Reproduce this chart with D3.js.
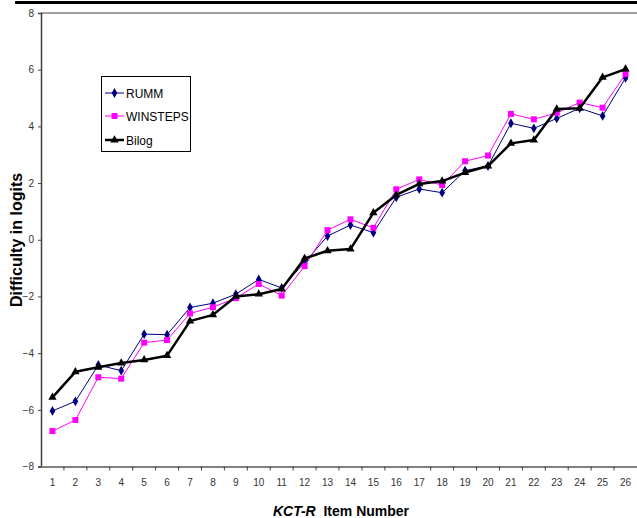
<!DOCTYPE html>
<html>
<head>
<meta charset="utf-8">
<script src="https://cdn.jsdelivr.net/npm/d3@7"></script>
<style>
  body { margin: 0; background: #fff; }
  svg { display: block; font-family: "Liberation Sans", Arial, sans-serif; }
</style>
</head>
<body>
<div id="root"></div>
<script>
// item numbers on the x axis
var items = d3.range(1, 27);
// difficulty estimates
var rumm = [-6.04, -5.70, -4.42, -4.62, -3.33, -3.35, -2.39, -2.24, -1.92, -1.40, -1.70, -0.80, 0.13, 0.52, 0.25, 1.50, 1.79, 1.66, 2.44, 2.60, 4.11, 3.93, 4.28, 4.64, 4.37, 5.71];
var winsteps = [-6.75, -6.36, -4.85, -4.90, -3.63, -3.54, -2.60, -2.38, -2.06, -1.56, -1.97, -0.93, 0.34, 0.72, 0.42, 1.78, 2.13, 1.93, 2.77, 2.97, 4.44, 4.25, 4.48, 4.84, 4.66, 5.85];
var bilog = [-5.56, -4.66, -4.50, -4.35, -4.24, -4.09, -2.87, -2.65, -2.00, -1.92, -1.74, -0.66, -0.39, -0.33, 0.95, 1.58, 1.97, 2.07, 2.37, 2.60, 3.40, 3.52, 4.61, 4.64, 5.73, 6.02];
var yTicks = [-8, -6, -4, -2, 0, 2, 4, 6, 8];

var w = 637, h = 518;
var margin = { top: 13, right: 0, bottom: 51, left: 41 };

var svg = d3.select("#root").append("svg").attr("width", w).attr("height", h);

// thick rule across the top
svg.append("rect").attr("x", 15).attr("y", 1).attr("width", w - 15).attr("height", 3).attr("fill", "black");

var x = d3.scaleBand().domain(items).range([margin.left, w - margin.right]);
var y = d3.scaleLinear().domain([-8, 8]).range([h - margin.bottom - 0.5, margin.top]);
var cx = function(i) { return x(items[i]) + x.bandwidth() / 2; };

// top border of plot area
svg.append("line").attr("x1", margin.left).attr("x2", w).attr("y1", y(8)).attr("y2", y(8))
  .attr("stroke", "#808080").attr("stroke-width", 1.5);

// y axis
var yAxis = d3.axisLeft(y).tickValues(yTicks).tickSize(3).tickPadding(4);
var gy = svg.append("g").attr("transform", "translate(" + margin.left + ",0)").call(yAxis);
gy.select(".domain").attr("stroke", "#404040").attr("stroke-width", 1.5);
gy.selectAll(".tick line").attr("stroke", "#404040");
gy.selectAll("text").attr("font-size", "10px").attr("fill", "#333").attr("font-family", "Liberation Sans Narrow, Liberation Sans, Arial");

// x axis
var xAxis = d3.axisBottom(x).tickSize(0).tickPadding(12);
var gx = svg.append("g").attr("transform", "translate(0," + y(-8) + ")").call(xAxis);
gx.select(".domain").attr("stroke", "#808080").attr("stroke-width", 2);
gx.selectAll("text").attr("font-size", "10px").attr("fill", "#333").attr("font-family", "Liberation Sans Narrow, Liberation Sans, Arial");
// tick marks sit on the category boundaries
gx.selectAll(".bnd").data(items.slice(1)).enter().append("line")
  .attr("x1", function(d) { return x(d); }).attr("x2", function(d) { return x(d); })
  .attr("y1", 0).attr("y2", 4).attr("stroke", "#404040");

var line = d3.line().x(function(d, i) { return cx(i); }).y(function(d) { return y(d); });

var series = [
  { name: "RUMM", values: rumm, color: "#000080", width: 1, symbol: d3.symbolDiamond, size: 28 },
  { name: "WINSTEPS", values: winsteps, color: "#ff00ff", width: 1, symbol: d3.symbolSquare, size: 36 },
  { name: "Bilog", values: bilog, color: "#000000", width: 2.5, symbol: d3.symbolTriangle, size: 30 }
];

series.forEach(function(s) {
  svg.append("path").datum(s.values).attr("d", line).attr("fill", "none")
    .attr("stroke", s.color).attr("stroke-width", s.width).attr("stroke-linejoin", "round");
  svg.selectAll(null).data(s.values).enter().append("path")
    .attr("d", d3.symbol().type(s.symbol).size(s.size))
    .attr("transform", function(d, i) { return "translate(" + cx(i) + "," + y(d) + ")"; })
    .attr("fill", s.color);
});

// legend
var lg = svg.append("g");
lg.append("rect").attr("x", 101.5).attr("y", 76.5).attr("width", 89).attr("height", 75)
  .attr("fill", "white").attr("stroke", "black");
var ly = [93, 116, 140];
series.forEach(function(s, i) {
  lg.append("line").attr("x1", 105).attr("x2", 124).attr("y1", ly[i]).attr("y2", ly[i])
    .attr("stroke", s.color).attr("stroke-width", s.width);
  lg.append("path").attr("d", d3.symbol().type(s.symbol).size(s.size))
    .attr("transform", "translate(114.5," + ly[i] + ")").attr("fill", s.color);
  lg.append("text").attr("x", 126).attr("y", ly[i] + 4.5).attr("font-size", "12px").text(s.name);
});

// axis titles
svg.append("text").attr("transform", "translate(22,240) rotate(-90)").attr("text-anchor", "middle")
  .attr("font-size", "16px").attr("font-weight", "bold").text("Difficulty in logits");

var xt = svg.append("text").attr("x", 341).attr("y", 516).attr("text-anchor", "middle")
  .attr("font-size", "14px").attr("font-weight", "bold");
xt.append("tspan").attr("font-style", "italic").text("KCT-R");
xt.append("tspan").text("  Item Number").attr("xml:space", "preserve");
</script>
</body>
</html>
